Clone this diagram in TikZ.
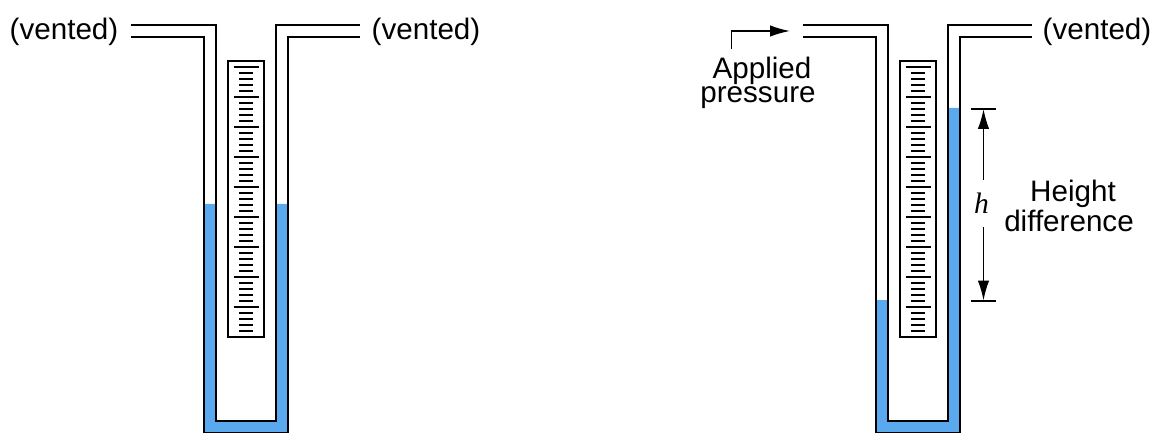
\documentclass[tikz,border=0pt]{standalone}
\usepackage{fontspec}
\setmainfont{Liberation Sans}
\newfontfamily\hfont{Liberation Serif}
\usetikzlibrary{arrows.meta}
\definecolor{liquid}{HTML}{5AA9EE}
\tikzset{
  tube/.style={line width=2pt},
  tick/.style={line width=2pt},
  label/.style={font=\fontsize{29.6}{30}\selectfont, align=center, inner sep=0pt},
  pointer/.style={line width=1.6pt, -{Latex[length=20pt,width=11.5pt]}},
}

\begin{document}
\begin{tikzpicture}[x=1pt,y=-1pt]

  \useasboundingbox (0,0) rectangle (1152,433);

  \foreach \xs/\levela/\levelb in {0/204/204, 672/300/108} {
    \begin{scope}[shift={(\xs,0)}]
      % liquid
      \fill [liquid] (204,\levela) -- (216,\levela) -- (216,420.5) -- (276,420.5)
        -- (276,\levelb) -- (288,\levelb) -- (288,432.5) -- (204,432.5) -- cycle;
      % tube
      \draw [tube] (131,25) -- (216,25) -- (216,420.5) -- (276,420.5) -- (276,25) -- (360,25);
      \draw [tube] (131,37) -- (204,37) -- (204,432.5) -- (288,432.5) -- (288,37) -- (360,37);
      % scale
      \draw [tube] (228,61) rectangle (264,337);
      \foreach \n in {0,...,8} {
        \draw [tick] (233.5,67+30*\n) -- (258.5,67+30*\n);
        \foreach \m in {1,...,4} {
          \draw [tick] (239,67+30*\n+6*\m) -- (252.5,67+30*\n+6*\m);
        }
      }
    \end{scope}
  }

  \node [label, anchor=base] (ventleft) at (64,39.5) {(vented)};
  \node [label, anchor=base] (ventmid) at (426,39.5) {(vented)};
  \node [label, anchor=base] (ventright) at (1097,39.5) {(vented)};

  \node [label, anchor=base] (applied) at (762,78.3) {Applied};
  \node [label, anchor=base] (pressure) at (758,102.7) {pressure};
  \coordinate (start) at (731.5,49.5);
  \coordinate (bend) at (731.5,31);
  \coordinate (inlet) at (790,31);
  \draw [pointer] (start) -- (bend) -- (inlet);

  \node [label, anchor=base] (height) at (1073,201.7) {Height};
  \node [label, anchor=base] (difference) at (1069,231.7) {difference};

  \coordinate (toptick) at (983.5,109);
  \coordinate (bottick) at (983.5,300.5);
  \node [inner sep=0pt, minimum height=47pt, font=\fontsize{29.6}{30}\hfont\itshape] (hlabel) at (981.5,203.5) {h};
  \draw [tick] (971,109) -- (996,109);
  \draw [tick] (971,300.5) -- (996,300.5);
  \draw [pointer] (hlabel.north -| toptick) -- (toptick);
  \draw [pointer] (hlabel.south -| bottick) -- (bottick);

\end{tikzpicture}
\end{document}
